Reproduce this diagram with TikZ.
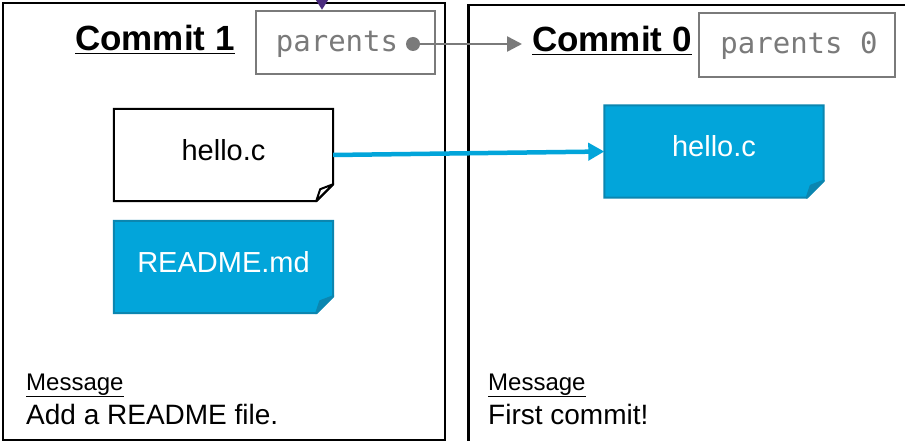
\documentclass[tikz,border=0pt]{standalone}
\usepackage{fontspec}
\setmainfont{Liberation Sans}
\newfontfamily\codefont{DejaVu Sans Mono}
\usetikzlibrary{arrows.meta,backgrounds}
\definecolor{fileblue}{HTML}{02A5DA}
\definecolor{fileedge}{HTML}{0B86B0}
\definecolor{refgray}{HTML}{7A7A7A}
\definecolor{refpurple}{HTML}{4B2C7E}
\tikzset{
  commitbox/.style={draw=black, line width=2.5pt, rectangle, inner sep=0pt, anchor=north west},
  titletext/.style={inner sep=0pt, anchor=base west, font=\fontsize{35}{42}\selectfont\bfseries},
  parentbox/.style={draw=refgray, line width=2.5pt, rectangle, inner sep=0pt},
  codetext/.style={inner sep=0pt, text=refgray, font=\fontsize{29}{34}\selectfont\codefont},
  filenode/.style={rectangle, inner sep=0pt, minimum width=219pt, minimum height=92pt, font=\fontsize{29}{34}\selectfont},
  msghead/.style={inner sep=0pt, anchor=base west, font=\fontsize{24}{28}\selectfont},
  msgtext/.style={inner sep=0pt, anchor=base west, font=\fontsize{28}{33}\selectfont},
  grayarrow/.style={draw=refgray, line width=2.5pt, -{Triangle[length=15pt,width=15pt]}},
  bluearrow/.style={draw=fileblue, line width=4.5pt, -{Triangle[length=16pt,width=17pt]}},
  purplearrow/.style={draw=refpurple, line width=2pt, -{Triangle[length=10pt,width=12pt]}},
}
\newcommand{\fileshape}[4]{%
  \draw[fill=#2, draw=#3, line width=2pt, line join=miter]
    (#1.north west) -- (#1.north east) -- ([yshift=17pt]#1.south east)
    -- ([xshift=-17pt]#1.south east) -- (#1.south west) -- cycle;
  \draw[fill=#4, draw=#3, line width=2pt, line join=round]
    ([yshift=17pt]#1.south east) -- ([xshift=-17pt]#1.south east)
    -- ([xshift=-13pt,yshift=12pt]#1.south east) -- cycle;
}
\begin{document}
\begin{tikzpicture}[x=1pt, y=-1pt]
\useasboundingbox (0,0) rectangle (905,441);
\clip (0,0) rectangle (905,441);
\fill[white] (0,0) rectangle (905,441);

% commit boxes
\node[commitbox, minimum width=442pt, minimum height=437pt] (c1) at (1.5,2) {};
\node[commitbox, minimum width=470pt, minimum height=470pt] (c0) at (467,4) {};

% titles
\node[titletext] (t1) at (75,51) {\underline{Commit 1}};
\node[titletext] (t0) at (532,52) {\underline{Commit 0}};

% parents boxes
\node[parentbox, minimum width=179pt, minimum height=63pt] (p1) at (345.5,42.5) {};
\node[codetext] (p1t) at (337,44) {parents};
\node[circle, fill=refgray, inner sep=0pt, minimum size=14pt] (dot) at (413,44) {};
\node[parentbox, minimum width=196pt, minimum height=64pt] (p0) at (797,45) {};
\node[codetext] (p0t) at (799,46) {parents 0};

% files
\node[filenode] (h1) at (223.5,155) {};
\node[filenode] (r1) at (223.5,267) {};
\node[filenode] (h0) at (714,151.5) {};
\fileshape{h1}{white}{black}{white}
\fileshape{r1}{fileblue}{fileedge}{fileedge}
\fileshape{h0}{fileblue}{fileedge}{fileedge}
\node[filenode, text=black] (h1t) at ([yshift=5pt]h1.center) {hello.c};
\node[filenode, text=white] (r1t) at ([yshift=5pt]r1.center) {README.md};
\node[filenode, text=white] (h0t) at ([yshift=5pt]h0.center) {hello.c};

% arrows
\draw[grayarrow] (dot.center) -- ([xshift=-10pt]dot -| t0.west);
\draw[bluearrow] (h1.east) -- (h0.west);
\coordinate (src) at (322,-40);
\draw[purplearrow] (src) -- (src |- p1.north);

% messages
\node[msghead] (m1) at (26,390) {\underline{Message}};
\node[msgtext] (m1t) at (26,424) {Add a README file.};
\node[msghead] (m0) at (488,390) {\underline{Message}};
\node[msgtext] (m0t) at (488,424) {First commit!};
\end{tikzpicture}
\end{document}
